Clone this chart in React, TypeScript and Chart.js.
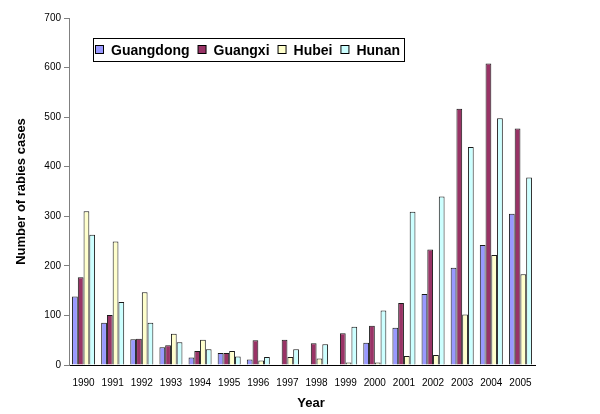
import React, { useEffect, useRef } from "react";
import { Chart, registerables } from "chart.js";

Chart.register(...registerables);

const years = ["1990","1991","1992","1993","1994","1995","1996","1997","1998","1999","2000","2001","2002","2003","2004","2005"];
const guangdong = [138, 85, 52, 36, 15, 24, 11, 0, 0, 0, 45, 75, 143, 196, 242, 305];
const guangxi = [177, 101, 53, 40, 28, 24, 50, 51, 44, 64, 79, 125, 233, 517, 608, 477];
const hubei = [310, 249, 147, 63, 51, 28, 9, 16, 13, 5, 5, 18, 20, 102, 222, 183];
const hunan = [263, 127, 85, 46, 32, 17, 16, 32, 42, 77, 110, 309, 340, 440, 498, 378];
const yTicks = [0, 100, 200, 300, 400, 500, 600, 700];

const seriesNames = ["Guangdong", "Guangxi", "Hubei", "Hunan"];
const seriesColors = ["#9999FF", "#993366", "#FFFFCC", "#CCFFFF"];
const xTitle = "Year";

const FONT = "'Liberation Sans', Arial, sans-serif";

const legendBoxPlugin = {
  id: "legendBox",
  afterDraw(chart: any) {
    const ctx = chart.ctx;
    ctx.save();
    const boxL = 93.5, boxT = 38.5, boxR = 404.5, boxB = 61.5;
    ctx.fillStyle = "#ffffff";
    ctx.fillRect(boxL, boxT, boxR - boxL, boxB - boxT);
    ctx.strokeStyle = "#000000";
    ctx.lineWidth = 1;
    ctx.strokeRect(boxL, boxT, boxR - boxL, boxB - boxT);
    ctx.font = `bold 14px ${FONT}`;
    ctx.textBaseline = "middle";
    ctx.textAlign = "left";
    const cy = 50;
    let x = 95;
    chart.data.datasets.forEach((ds: any) => {
      ctx.fillStyle = ds.backgroundColor;
      ctx.fillRect(x + 0.5, cy - 4.5, 8, 8);
      ctx.strokeStyle = "#000000";
      ctx.strokeRect(x + 0.5, cy - 4.5, 8, 8);
      ctx.fillStyle = "#000000";
      const tx = x + 16;
      ctx.fillText(ds.label, tx, cy + 1);
      const w = ctx.measureText(ds.label).width;
      x = tx + w + 8;
    });
    // x axis title
    ctx.font = `bold 13px ${FONT}`;
    ctx.textAlign = "center";
    ctx.fillText(xTitle, 311, 403);
    ctx.restore();
  },
};

export default function App() {
  const ref = useRef<HTMLCanvasElement>(null);
  useEffect(() => {
    if (!ref.current) return;
    const data = [guangdong, guangxi, hubei, hunan];
    const chart = new Chart(ref.current, {
      type: "bar",
      data: {
        labels: years,
        datasets: data.map((d, i) => ({
          label: seriesNames[i],
          data: d,
          backgroundColor: seriesColors[i],
          borderColor: "#1a1a1a",
          borderWidth: 1,
          categoryPercentage: 0.79,
          barPercentage: 1,
        })),
      },
      options: {
        animation: false,
        responsive: false,
        devicePixelRatio: 1,
        layout: { padding: { top: 18, right: 65, left: 0, bottom: 0 } },
        plugins: {
          legend: { display: false },
          tooltip: { enabled: false },
        },
        scales: {
          x: {
            grid: { display: false, drawTicks: false },
            border: { display: true, color: "#000000", width: 1 },
            ticks: {
              color: "#000000",
              font: { family: FONT, size: 10 },
              padding: 12,
              maxRotation: 0,
              autoSkip: false,
            },
            afterFit: (scale: any) => { scale.height = 49; },
          },
          y: {
            min: 0,
            max: 700,
            afterBuildTicks: (scale: any) => {
              scale.ticks = yTicks.map((v) => ({ value: v }));
            },
            grid: {
              drawOnChartArea: false,
              drawTicks: true,
              tickLength: 5,
              color: "#808080",
            },
            border: { display: true, color: "#808080", width: 1 },
            ticks: {
              color: "#000000",
              font: { family: FONT, size: 10 },
              padding: 3,
            },
            title: {
              display: true,
              text: "Number of rabies cases",
              color: "#000000",
              font: { family: FONT, size: 13, weight: "bold" },
              padding: { top: 14, bottom: 0 },
            },
            afterFit: (scale: any) => { scale.width = 69; },
          },
        },
      },
      plugins: [legendBoxPlugin],
    } as any);
    return () => chart.destroy();
  }, []);
  return (
    <div style={{ position: "absolute", left: 0, top: 0, width: 600, height: 414, background: "#fff" }}>
      <canvas ref={ref} width={600} height={414} style={{ display: "block" }} />
    </div>
  );
}
